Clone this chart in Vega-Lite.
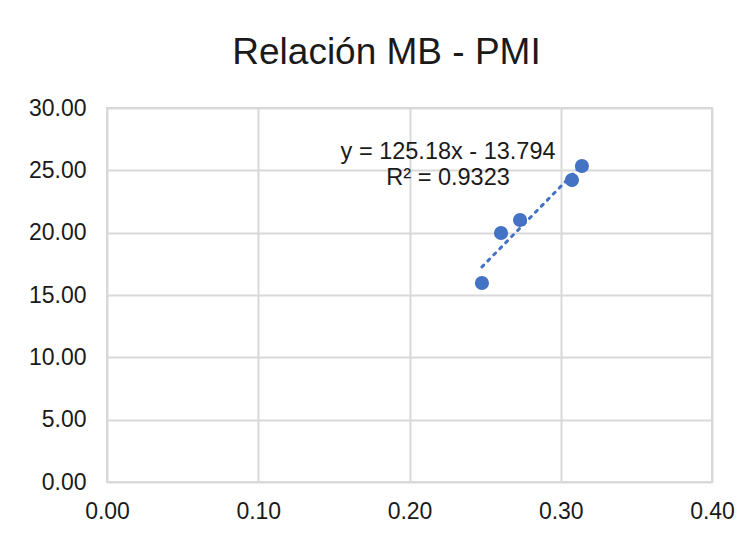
{
  "$schema": "https://vega.github.io/schema/vega-lite/v6.json",
  "autosize": "none",
  "width": 605,
  "height": 374,
  "padding": {"left": 107, "top": 108, "right": 40, "bottom": 51},
  "background": "white",
  "config": {
    "font": "Liberation Sans",
    "view": {"stroke": "#d9d9d9", "strokeWidth": 2},
    "axis": {
      "grid": true,
      "gridColor": "#d9d9d9",
      "gridWidth": 2,
      "domain": false,
      "ticks": false,
      "labelFlush": false,
      "labelFont": "Liberation Sans",
      "labelFontSize": 23,
      "labelColor": "#1a1a1a",
      "title": null
    }
  },
  "title": {
    "text": "Relación MB - PMI",
    "font": "Liberation Sans",
    "fontSize": 37,
    "fontWeight": "normal",
    "color": "#1a1a1a",
    "anchor": "middle",
    "baseline": "alphabetic",
    "offset": -4,
    "dx": -23
  },
  "datasets": {
    "pts": [
      {"MB": 0.2479, "PMI": 15.96},
      {"MB": 0.2605, "PMI": 19.97},
      {"MB": 0.2731, "PMI": 21.02},
      {"MB": 0.3074, "PMI": 24.22},
      {"MB": 0.3140, "PMI": 25.35}
    ],
    "eq": [
      {"label": "y = 125.18x - 13.794", "MB": 0.2255, "PMI": 25.91},
      {"label": "R² = 0.9323", "MB": 0.2255, "PMI": 23.82}
    ]
  },
  "layer": [
    {
      "data": {"name": "pts"},
      "transform": [{"regression": "PMI", "on": "MB"}],
      "mark": {"type": "line", "color": "#4472C4", "strokeWidth": 3, "strokeDash": [2.5, 6], "strokeCap": "round"},
      "encoding": {
        "x": {"field": "MB", "type": "quantitative", "scale": {"domain": [0, 0.4], "nice": false, "zero": false},
              "axis": {"values": [0, 0.1, 0.2, 0.3, 0.4], "format": ".2f", "labelPadding": 18}},
        "y": {"field": "PMI", "type": "quantitative", "scale": {"domain": [0, 30], "nice": false},
              "axis": {"values": [0, 5, 10, 15, 20, 25, 30], "format": ".2f", "labelPadding": 21}}
      }
    },
    {
      "data": {"name": "pts"},
      "mark": {"type": "point", "filled": true, "shape": "circle", "size": 200, "color": "#4472C4", "opacity": 1},
      "encoding": {
        "x": {"field": "MB", "type": "quantitative"},
        "y": {"field": "PMI", "type": "quantitative"}
      }
    },
    {
      "data": {"name": "eq"},
      "mark": {"type": "text", "font": "Liberation Sans", "fontSize": 23.5, "color": "#1a1a1a", "align": "center", "baseline": "alphabetic"},
      "encoding": {
        "x": {"field": "MB", "type": "quantitative"},
        "y": {"field": "PMI", "type": "quantitative"},
        "text": {"field": "label"}
      }
    }
  ]
}
